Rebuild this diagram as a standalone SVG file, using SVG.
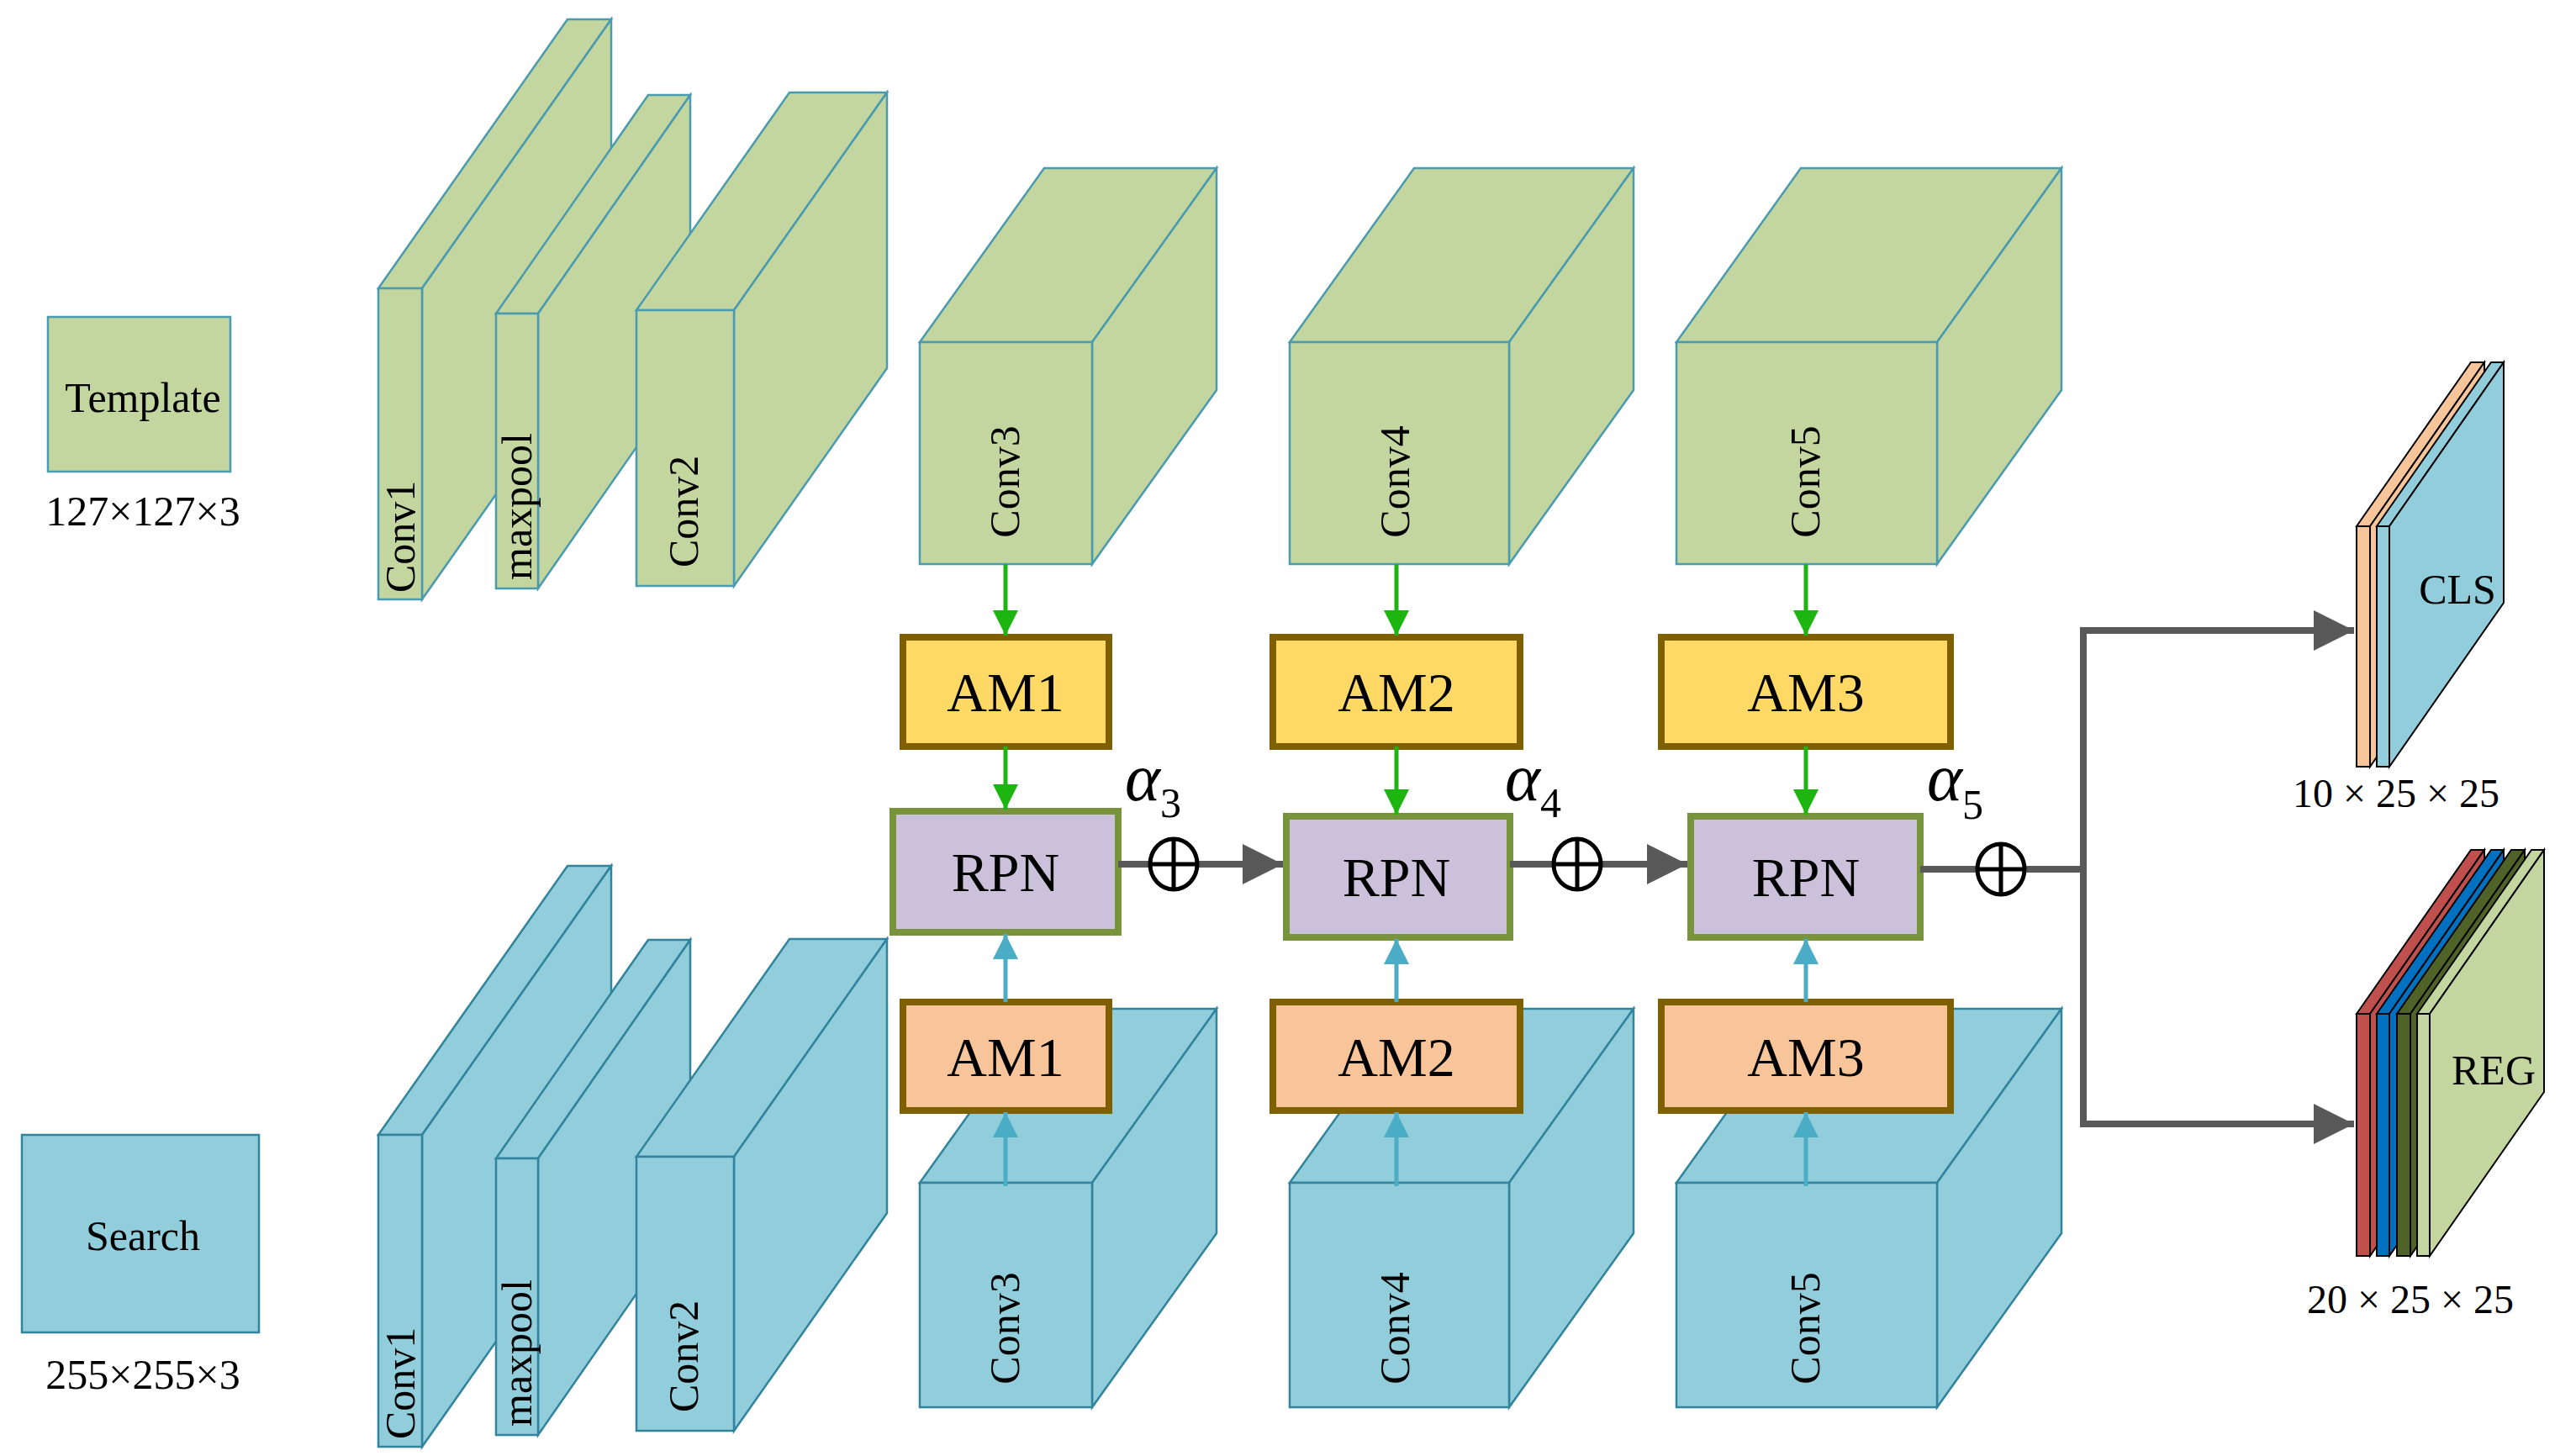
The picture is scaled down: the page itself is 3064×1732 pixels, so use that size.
<svg xmlns="http://www.w3.org/2000/svg" width="3064" height="1732" viewBox="0 0 3064 1732">
<style>
.g{fill:#c4d6a0;stroke:#4a9ab0;stroke-width:2.5}
.b{fill:#92cddc;stroke:#31849b;stroke-width:2.5}
.t{font-family:"Liberation Serif",serif;fill:#000}
.lab{font-family:"Liberation Serif",serif;font-size:50px;fill:#000}
.am{stroke:#7f6000;stroke-width:8}
.rpn{fill:#ccc1da;stroke:#77933c;stroke-width:8}
.big{font-family:"Liberation Serif",serif;font-size:66px;text-anchor:middle}
.sl{stroke:#000;stroke-width:2}
.ga{stroke:#1db510;stroke-width:5;fill:none}
.ba{stroke:#4bacc6;stroke-width:5;fill:none}
.gr{stroke:#595959;stroke-width:8;fill:none}
</style>
<defs>
<marker id="mg" markerWidth="6" markerHeight="8" refX="6" refY="4" orient="auto" markerUnits="strokeWidth"><path d="M0,1 L6,4 L0,7 Z" fill="#1db510"/></marker>
<marker id="mb" markerWidth="6" markerHeight="8" refX="6" refY="4" orient="auto" markerUnits="strokeWidth"><path d="M0,1 L6,4 L0,7 Z" fill="#4bacc6"/></marker>
<marker id="mk" markerWidth="6" markerHeight="6" refX="6" refY="3" orient="auto" markerUnits="strokeWidth"><path d="M0,0 L6,3 L0,6 Z" fill="#595959"/></marker>
</defs>

<g id="template">
<rect x="57" y="377" width="217" height="184" class="g" stroke-width="4"/>
<text x="170" y="490" class="lab" text-anchor="middle">Template</text>
<text x="170" y="625" class="lab" text-anchor="middle">127×127×3</text>
</g>
<g id="search">
<rect x="26" y="1350" width="282" height="235" class="b" stroke-width="4"/>
<text x="170" y="1487" class="lab" text-anchor="middle">Search</text>
<text x="170" y="1652" class="lab" text-anchor="middle">255×255×3</text>
</g>

<g id="t-conv1"><polygon class="g" points="450,343 675,23 727,23 502,343"/><polygon class="g" points="502,343 727,23 727,393 502,713"/><rect class="g" x="450" y="343" width="52" height="370"/><text class="lab" transform="translate(493,705) rotate(-90)">Conv1</text></g>
<g id="t-maxpool"><polygon class="g" points="590,373 771,113 821,113 640,373"/><polygon class="g" points="640,373 821,113 821,440 640,700"/><rect class="g" x="590" y="373" width="50" height="327"/><text class="lab" transform="translate(632,690) rotate(-90)">maxpool</text></g>
<g id="t-conv2"><polygon class="g" points="757,369 939,110 1055,110 873,369"/><polygon class="g" points="873,369 1055,110 1055,438 873,697"/><rect class="g" x="757" y="369" width="116" height="328"/><text class="lab" transform="translate(830,675) rotate(-90)">Conv2</text></g>
<g id="t-conv3"><polygon class="g" points="1094,407 1242,200 1447,200 1299,407"/><polygon class="g" points="1299,407 1447,200 1447,464 1299,671"/><rect class="g" x="1094" y="407" width="205" height="264"/><text class="lab" text-anchor="middle" transform="translate(1212,573) rotate(-90)">Conv3</text></g>
<g id="t-conv4"><polygon class="g" points="1534,407 1682,200 1943,200 1795,407"/><polygon class="g" points="1795,407 1943,200 1943,464 1795,671"/><rect class="g" x="1534" y="407" width="261" height="264"/><text class="lab" text-anchor="middle" transform="translate(1676,573) rotate(-90)">Conv4</text></g>
<g id="t-conv5"><polygon class="g" points="1994,407 2142,200 2452,200 2304,407"/><polygon class="g" points="2304,407 2452,200 2452,464 2304,671"/><rect class="g" x="1994" y="407" width="310" height="264"/><text class="lab" text-anchor="middle" transform="translate(2164,573) rotate(-90)">Conv5</text></g>

<g id="s-conv1"><polygon class="b" points="450,1350 675,1030 727,1030 502,1350"/><polygon class="b" points="502,1350 727,1030 727,1401 502,1721"/><rect class="b" x="450" y="1350" width="52" height="371"/><text class="lab" transform="translate(493,1712) rotate(-90)">Conv1</text></g>
<g id="s-maxpool"><polygon class="b" points="590,1378 771,1118 821,1118 640,1378"/><polygon class="b" points="640,1378 821,1118 821,1447 640,1707"/><rect class="b" x="590" y="1378" width="50" height="329"/><text class="lab" transform="translate(632,1697) rotate(-90)">maxpool</text></g>
<g id="s-conv2"><polygon class="b" points="757,1376 939,1117 1055,1117 873,1376"/><polygon class="b" points="873,1376 1055,1117 1055,1443 873,1702"/><rect class="b" x="757" y="1376" width="116" height="326"/><text class="lab" transform="translate(830,1680) rotate(-90)">Conv2</text></g>
<g id="s-conv3"><polygon class="b" points="1094,1407 1242,1200 1447,1200 1299,1407"/><polygon class="b" points="1299,1407 1447,1200 1447,1467 1299,1674"/><rect class="b" x="1094" y="1407" width="205" height="267"/><text class="lab" text-anchor="middle" transform="translate(1212,1580) rotate(-90)">Conv3</text></g>
<g id="s-conv4"><polygon class="b" points="1534,1407 1682,1200 1943,1200 1795,1407"/><polygon class="b" points="1795,1407 1943,1200 1943,1467 1795,1674"/><rect class="b" x="1534" y="1407" width="261" height="267"/><text class="lab" text-anchor="middle" transform="translate(1676,1580) rotate(-90)">Conv4</text></g>
<g id="s-conv5"><polygon class="b" points="1994,1407 2142,1200 2452,1200 2304,1407"/><polygon class="b" points="2304,1407 2452,1200 2452,1467 2304,1674"/><rect class="b" x="1994" y="1407" width="310" height="267"/><text class="lab" text-anchor="middle" transform="translate(2164,1580) rotate(-90)">Conv5</text></g>

<g id="am1-t"><rect class="am" x="1074" y="758" width="245" height="130" fill="#ffd966"/><text class="big" x="1196" y="846">AM1</text></g>
<g id="am2-t"><rect class="am" x="1514" y="758" width="294" height="130" fill="#ffd966"/><text class="big" x="1661" y="846">AM2</text></g>
<g id="am3-t"><rect class="am" x="1976" y="758" width="344" height="130" fill="#ffd966"/><text class="big" x="2148" y="846">AM3</text></g>
<g id="am1-s"><rect class="am" x="1074" y="1192" width="245" height="129" fill="#f8c49a"/><text class="big" x="1196" y="1280">AM1</text></g>
<g id="am2-s"><rect class="am" x="1514" y="1192" width="294" height="129" fill="#f8c49a"/><text class="big" x="1661" y="1280">AM2</text></g>
<g id="am3-s"><rect class="am" x="1976" y="1192" width="344" height="129" fill="#f8c49a"/><text class="big" x="2148" y="1280">AM3</text></g>

<g id="rpn1"><rect class="rpn" x="1062" y="965" width="268" height="144"/><text class="big" x="1196" y="1060">RPN</text></g>
<g id="rpn2"><rect class="rpn" x="1530" y="971" width="266" height="144"/><text class="big" x="1661" y="1066">RPN</text></g>
<g id="rpn3"><rect class="rpn" x="2011" y="971" width="273" height="144"/><text class="big" x="2148" y="1066">RPN</text></g>

<g id="cls">
<polygon class="sl" fill="#f8c49a" points="2803,626 2939,431 2955,431 2819,626"/><polygon class="sl" fill="#f8c49a" points="2819,626 2955,431 2955,717 2819,912"/><rect class="sl" fill="#f8c49a" x="2803" y="626" width="16" height="286"/>
<polygon class="sl" fill="#92cddc" points="2827,626 2963,431 2978,431 2842,626"/><polygon class="sl" fill="#92cddc" points="2842,626 2978,431 2978,717 2842,912"/><rect class="sl" fill="#92cddc" x="2827" y="626" width="15" height="286"/>
<text class="t" font-size="50" x="2923" y="718" text-anchor="middle">CLS</text>
<text class="t" font-size="48" x="2850" y="960" text-anchor="middle">10 × 25 × 25</text>
</g>
<g id="reg">
<polygon class="sl" fill="#c0504d" points="2803,1206 2939,1011 2955,1011 2819,1206"/><polygon class="sl" fill="#c0504d" points="2819,1206 2955,1011 2955,1299 2819,1494"/><rect class="sl" fill="#c0504d" x="2803" y="1206" width="16" height="288"/>
<polygon class="sl" fill="#0070c0" points="2827,1206 2963,1011 2978,1011 2842,1206"/><polygon class="sl" fill="#0070c0" points="2842,1206 2978,1011 2978,1299 2842,1494"/><rect class="sl" fill="#0070c0" x="2827" y="1206" width="15" height="288"/>
<polygon class="sl" fill="#4f6228" points="2851,1206 2987,1011 3003,1011 2867,1206"/><polygon class="sl" fill="#4f6228" points="2867,1206 3003,1011 3003,1299 2867,1494"/><rect class="sl" fill="#4f6228" x="2851" y="1206" width="16" height="288"/>
<polygon class="sl" fill="#c4d6a0" points="2875,1206 3011,1011 3026,1011 2890,1206"/><polygon class="sl" fill="#c4d6a0" points="2890,1206 3026,1011 3026,1299 2890,1494"/><rect class="sl" fill="#c4d6a0" x="2875" y="1206" width="15" height="288"/>
<text class="t" font-size="50" x="2966" y="1290" text-anchor="middle">REG</text>
<text class="t" font-size="48" x="2867" y="1562" text-anchor="middle">20 × 25 × 25</text>
</g>

<g id="connectors">
<line class="ga" x1="1196" y1="671" x2="1196" y2="756" marker-end="url(#mg)"/>
<line class="ga" x1="1661" y1="671" x2="1661" y2="756" marker-end="url(#mg)"/>
<line class="ga" x1="2148" y1="671" x2="2148" y2="756" marker-end="url(#mg)"/>
<line class="ga" x1="1196" y1="888" x2="1196" y2="963" marker-end="url(#mg)"/>
<line class="ga" x1="1661" y1="888" x2="1661" y2="969" marker-end="url(#mg)"/>
<line class="ga" x1="2148" y1="888" x2="2148" y2="969" marker-end="url(#mg)"/>
<line class="ba" x1="1196" y1="1192" x2="1196" y2="1111" marker-end="url(#mb)"/>
<line class="ba" x1="1661" y1="1192" x2="1661" y2="1117" marker-end="url(#mb)"/>
<line class="ba" x1="2148" y1="1192" x2="2148" y2="1117" marker-end="url(#mb)"/>
<line class="ba" x1="1196" y1="1411" x2="1196" y2="1323" marker-end="url(#mb)"/>
<line class="ba" x1="1661" y1="1411" x2="1661" y2="1323" marker-end="url(#mb)"/>
<line class="ba" x1="2148" y1="1411" x2="2148" y2="1323" marker-end="url(#mb)"/>
<line class="gr" x1="1330" y1="1028" x2="1526" y2="1028" marker-end="url(#mk)"/>
<line class="gr" x1="1796" y1="1028" x2="2007" y2="1028" marker-end="url(#mk)"/>
<polyline class="gr" points="2284,1034 2478,1034"/>
<polyline class="gr" points="2800,750 2478,750 2478,1337 2800,1337" marker-end="url(#mk)"/>
<line class="gr" x1="2478" y1="750" x2="2800" y2="750" marker-end="url(#mk)"/>
<g fill="#fff" stroke="#000" stroke-width="5">
<ellipse cx="1396" cy="1028" rx="28" ry="30"/><path d="M1368,1028 H1424 M1396,998 V1058"/>
<ellipse cx="1876" cy="1028" rx="28" ry="30"/><path d="M1848,1028 H1904 M1876,998 V1058"/>
<ellipse cx="2380" cy="1034" rx="28" ry="30"/><path d="M2352,1034 H2408 M2380,1004 V1064"/>
</g>
</g>
<g id="alphas" class="t">
<text x="1338" y="952" font-size="80" font-style="italic">α<tspan font-size="50" font-style="normal" dy="20">3</tspan></text>
<text x="1790" y="952" font-size="80" font-style="italic">α<tspan font-size="50" font-style="normal" dy="20">4</tspan></text>
<text x="2292" y="952" font-size="80" font-style="italic">α<tspan font-size="50" font-style="normal" dy="22">5</tspan></text>
</g>
</svg>
